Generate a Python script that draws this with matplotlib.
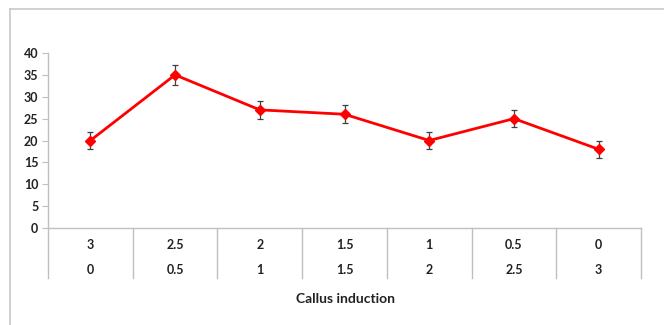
import numpy as np
import matplotlib.pyplot as plt
from matplotlib.lines import Line2D

# treatment levels (two rows of the category axis) and callus induction response
row1 = ['3', '2.5', '2', '1.5', '1', '0.5', '0']
row2 = ['0', '0.5', '1', '1.5', '2', '2.5', '3']
induction = [20, 35, 27, 26, 20, 25, 18]
err = [2, 2.2, 2.1, 2.1, 2, 2, 2]

plt.rcParams['font.family'] = ['Lato', 'DejaVu Sans']

W, H = 664, 325
fig = plt.figure(figsize=(W / 100, H / 100), dpi=100)

# light frame around the chart (left and top edges visible)
fig.add_artist(Line2D([10 / W, 10 / W], [0, 1 - 9 / H], color='#c8c8c8', lw=1.2))
fig.add_artist(Line2D([10 / W, 1], [1 - 9 / H, 1 - 9 / H], color='#c8c8c8', lw=1.2))

x0, x1 = 48, 641
y_top, y_bot = 53, 228
ax = fig.add_axes([x0 / W, 1 - y_bot / H, (x1 - x0) / W, (y_bot - y_top) / H])

x = np.arange(len(induction))
ax.errorbar(x, induction, yerr=err, color='#ff0000', lw=2, marker='D', ms=5,
            ecolor='#404040', elinewidth=0.9, capsize=2.5, capthick=0.9, zorder=3)

ax.set_xlim(-0.5, len(induction) - 0.5)
ax.set_ylim(0, 40)
ax.set_yticks(range(0, 41, 5))
ax.set_xticks([])
for s in ['top', 'right']:
    ax.spines[s].set_visible(False)
for s in ['left', 'bottom']:
    ax.spines[s].set_color('#bfbfbf')
    ax.spines[s].set_linewidth(1)
ax.tick_params(axis='y', length=4, color='#bfbfbf', labelsize=9, pad=3,
               labelcolor='#222222')
for lab in ax.get_yticklabels():
    lab.set_fontweight('bold')

# multi-level category axis: dividers and two label rows
axis_h = y_bot - y_top
div_bottom = -(278 - y_bot) / axis_h
for b in np.arange(-0.5, len(induction), 1.0):
    ax.plot([b, b], [0, div_bottom], transform=ax.get_xaxis_transform(),
            color='#bfbfbf', lw=1, clip_on=False)
for i in range(len(induction)):
    ax.text(i, -(245 - y_bot) / axis_h, row1[i], transform=ax.get_xaxis_transform(),
            ha='center', va='center', fontsize=9, fontweight='bold', color='#222222')
    ax.text(i, -(270 - y_bot) / axis_h, row2[i], transform=ax.get_xaxis_transform(),
            ha='center', va='center', fontsize=9, fontweight='bold', color='#222222')

fig.text(345 / W, 1 - 299 / H, 'Callus induction', ha='center', va='center',
         fontsize=10, fontweight='bold', color='#222222')

fig.savefig('out.png', dpi=100, facecolor='white')
